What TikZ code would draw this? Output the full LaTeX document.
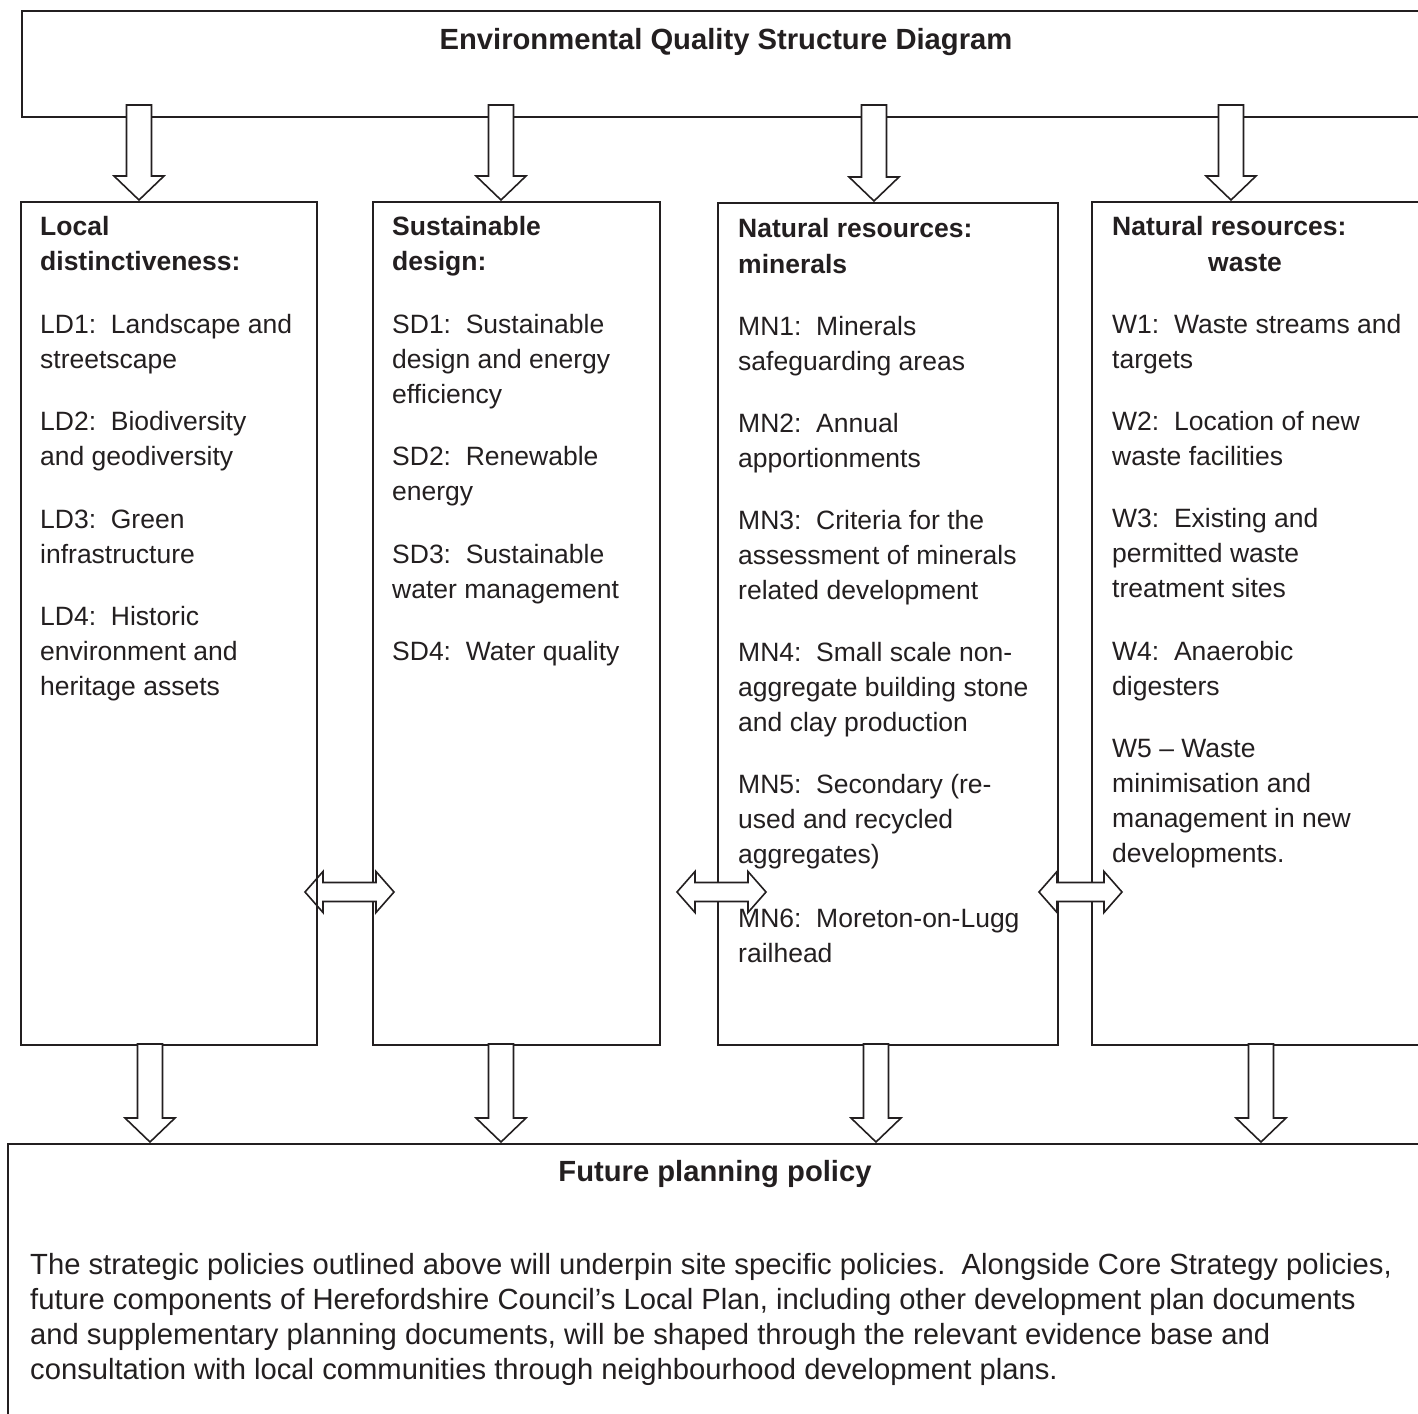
\documentclass[tikz,border=0pt]{standalone}
\usepackage{fontspec}
\setmainfont{Liberation Sans}
\usetikzlibrary{calc}
\definecolor{ink}{RGB}{35,31,32}
\newcommand\dnarrow[2]{%
  \draw[blk] (#1) -- ++(-25,-24) -- ++(12.5,0) -- ++(0,{24-#2}) -- ++(25,0) -- ++(0,{#2-24}) -- ++(12.5,0) -- cycle;}
\newcommand\dblarrow[2]{%
  \fill[white] ($(#1)+(18,-9.5)$) rectangle ($(#1)+({#2-18},9.5)$);
  \draw[blk,fill=none] (#1) -- ++(18,-20.5) -- ++(0,11) -- ++({#2-36},0) -- ++(0,-11) -- ++(18,20.5) -- ++(-18,20.5) -- ++(0,-11) -- ++({36-#2},0) -- ++(0,11) -- cycle;}
\begin{document}
\begin{tikzpicture}[x=1pt,y=-1pt,
  box/.style={draw=ink,line width=1.8pt,inner sep=0pt,anchor=north west},
  blk/.style={draw=ink,line width=1.6pt,fill=white,line join=miter},
  txt/.style={inner sep=0pt,anchor=base west,text=ink,font=\fontsize{26.5}{35}\selectfont},
  hd/.style={txt,font=\fontsize{26.5}{35}\selectfont\bfseries},
  big/.style={inner sep=0pt,anchor=base west,text=ink,font=\fontsize{29.2}{35}\selectfont},
  bighd/.style={inner sep=0pt,anchor=base,text=ink,font=\fontsize{29.2}{35}\selectfont\bfseries},
]
\useasboundingbox (0,0) rectangle (1418,1413);
\clip (0,0) rectangle (1418,1413);
\fill[white] (0,0) rectangle (1418,1413);

% boxes
\node[box,minimum width=1409pt,minimum height=106pt] (top) at (21,10) {};
\node[box,minimum width=296pt,minimum height=843pt] (c1) at (20,201) {};
\node[box,minimum width=287pt,minimum height=843pt] (c2) at (372,201) {};
\node[box,minimum width=340pt,minimum height=842pt] (c3) at (717,202) {};
\node[box,minimum width=340pt,minimum height=843pt] (c4) at (1091,201) {};
\node[box,minimum width=1423pt,minimum height=300pt] (bot) at (7,1143) {};

% title
\node[bighd] (title) at (726,50) {Environmental Quality Structure Diagram};

% column 1
\node[hd] (c1h1) at (40,235) {Local};
\node[hd] (c1h2) at (40,270) {distinctiveness:};
\node[txt] (c1a) at (40,333) {LD1:\ \ Landscape and};
\node[txt] (c1b) at (40,368) {streetscape};
\node[txt] (c1c) at (40,430) {LD2:\ \ Biodiversity};
\node[txt] (c1d) at (40,465) {and geodiversity};
\node[txt] (c1e) at (40,528) {LD3:\ \ Green};
\node[txt] (c1f) at (40,563) {infrastructure};
\node[txt] (c1g) at (40,625) {LD4:\ \ Historic};
\node[txt] (c1h) at (40,660) {environment and};
\node[txt] (c1i) at (40,695) {heritage assets};

% column 2
\node[hd] (c2h1) at (392,235) {Sustainable};
\node[hd] (c2h2) at (392,270) {design:};
\node[txt] (c2a) at (392,333) {SD1:\ \ Sustainable};
\node[txt] (c2b) at (392,368) {design and energy};
\node[txt] (c2c) at (392,403) {efficiency};
\node[txt] (c2d) at (392,465) {SD2:\ \ Renewable};
\node[txt] (c2e) at (392,500) {energy};
\node[txt] (c2f) at (392,563) {SD3:\ \ Sustainable};
\node[txt] (c2g) at (392,598) {water management};
\node[txt] (c2h) at (392,660) {SD4:\ \ Water quality};

% column 3
\node[hd] (c3h1) at (738,237) {Natural resources:};
\node[hd] (c3h2) at (738,273) {minerals};
\node[txt] (c3a) at (738,335) {MN1:\ \ Minerals};
\node[txt] (c3b) at (738,370) {safeguarding areas};
\node[txt] (c3c) at (738,432) {MN2:\ \ Annual};
\node[txt] (c3d) at (738,467) {apportionments};
\node[txt] (c3e) at (738,529) {MN3:\ \ Criteria for the};
\node[txt] (c3f) at (738,564) {assessment of minerals};
\node[txt] (c3g) at (738,599) {related development};
\node[txt] (c3h) at (738,661) {MN4:\ \ Small scale non-};
\node[txt] (c3i) at (738,696) {aggregate building stone};
\node[txt] (c3j) at (738,731) {and clay production};
\node[txt] (c3k) at (738,793) {MN5:\ \ Secondary (re-};
\node[txt] (c3l) at (738,828) {used and recycled};
\node[txt] (c3m) at (738,863) {aggregates)};
\node[txt] (c3n) at (738,927) {MN6:\ \ Moreton-on-Lugg};
\node[txt] (c3o) at (738,962) {railhead};

% column 4
\node[hd] (c4h1) at (1112,235) {Natural resources:};
\node[hd,anchor=base] (c4h2) at (1245,271) {waste};
\node[txt] (c4a) at (1112,333) {W1:\ \ Waste streams and};
\node[txt] (c4b) at (1112,368) {targets};
\node[txt] (c4c) at (1112,430) {W2:\ \ Location of new};
\node[txt] (c4d) at (1112,465) {waste facilities};
\node[txt] (c4e) at (1112,527) {W3:\ \ Existing and};
\node[txt] (c4f) at (1112,562) {permitted waste};
\node[txt] (c4g) at (1112,597) {treatment sites};
\node[txt] (c4h) at (1112,660) {W4:\ \ Anaerobic};
\node[txt] (c4i) at (1112,695) {digesters};
\node[txt] (c4j) at (1112,757) {W5 – Waste};
\node[txt] (c4k) at (1112,792) {minimisation and};
\node[txt] (c4l) at (1112,827) {management in new};
\node[txt] (c4m) at (1112,862) {developments.};

% bottom
\node[bighd] (fut) at (715,1181) {Future planning policy};
\node[big] (b1) at (30,1274) {The strategic policies outlined above will underpin site specific policies.\ \ Alongside Core Strategy policies,};
\node[big] (b2) at (30,1309) {future components of Herefordshire Council’s Local Plan, including other development plan documents};
\node[big] (b3) at (30,1344) {and supplementary planning documents, will be shaped through the relevant evidence base and};
\node[big] (b4) at (30,1379) {consultation with local communities through neighbourhood development plans.};

% arrow tips
\coordinate (t1) at (139,200);
\coordinate (t2) at (501,200);
\coordinate (t3) at (874,201);
\coordinate (t4) at (1231,200);
\coordinate (u1) at (150,1142);
\coordinate (u2) at (501,1142);
\coordinate (u3) at (876,1142);
\coordinate (u4) at (1261,1142);
\coordinate (d1) at (305,892);
\coordinate (d2) at (677,892);
\coordinate (d3) at (1039,892);

\dnarrow{t1}{95}
\dnarrow{t2}{95}
\dnarrow{t3}{96}
\dnarrow{t4}{95}
\dnarrow{u1}{98}
\dnarrow{u2}{98}
\dnarrow{u3}{98}
\dnarrow{u4}{98}
\dblarrow{d1}{89}
\dblarrow{d2}{89}
\dblarrow{d3}{83}
\end{tikzpicture}
\end{document}
